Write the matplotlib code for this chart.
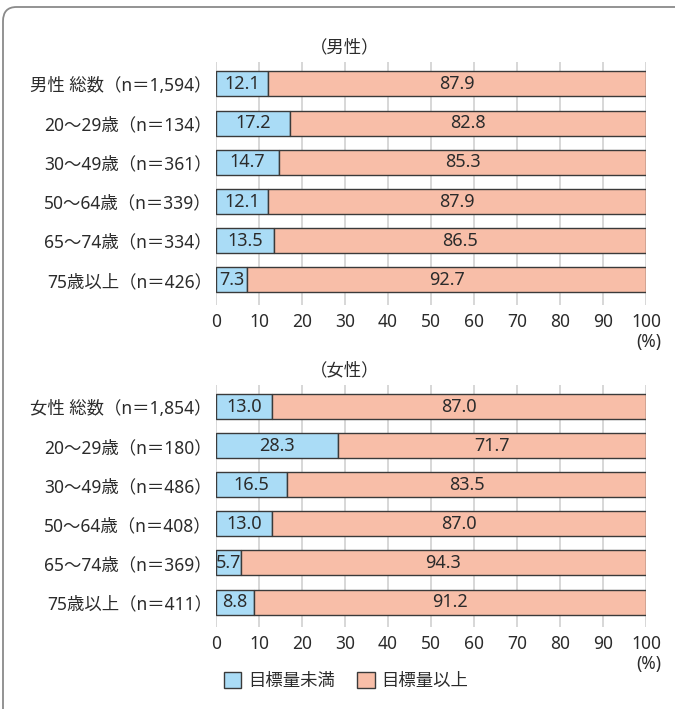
import matplotlib
matplotlib.use("Agg")
import matplotlib.pyplot as plt
from matplotlib.patches import FancyBboxPatch, Patch

plt.rcParams["font.family"] = ["Noto Sans", "Noto Sans CJK JP", "DejaVu Sans"]

# ---------------------------------------------------------------------------
# Data
# ---------------------------------------------------------------------------
male_labels = ["男性 総数（n＝1,594）", "20～29歳（n＝134）", "30～49歳（n＝361）",
               "50～64歳（n＝339）", "65～74歳（n＝334）", "75歳以上（n＝426）"]
male_under = [12.1, 17.2, 14.7, 12.1, 13.5, 7.3]
male_over = [87.9, 82.8, 85.3, 87.9, 86.5, 92.7]

female_labels = ["女性 総数（n＝1,854）", "20～29歳（n＝180）", "30～49歳（n＝486）",
                 "50～64歳（n＝408）", "65～74歳（n＝369）", "75歳以上（n＝411）"]
female_under = [13.0, 28.3, 16.5, 13.0, 5.7, 8.8]
female_over = [87.0, 71.7, 83.5, 87.0, 94.3, 91.2]

legend_labels = ["目標量未満", "目標量以上"]
xticks = list(range(0, 101, 10))

BLUE = "#aadcf6"
SALMON = "#f8bea8"
EDGE = "#3a3a3a"
TXT = "#2b2b2b"
GRID = "#d4d4d4"
FS = 12.5

fig = plt.figure(figsize=(6.75, 7.09), dpi=100)

# rounded frame (cut off at right and bottom)
frame = FancyBboxPatch((3 / 675, -0.1), 1.2, 1 - 7 / 709 + 0.1,
                       boxstyle="round,pad=0,rounding_size=0.02",
                       transform=fig.transFigure, fill=False,
                       edgecolor="#8a8a8a", lw=1.3, zorder=0)
fig.patches.append(frame)


def panel(rect, labels, under, over, title, title_y):
    ax = fig.add_axes(rect)
    y = list(range(len(labels)))
    ax.barh(y, under, height=0.64, color=BLUE, edgecolor=EDGE, lw=1.0, zorder=3)
    ax.barh(y, over, left=under, height=0.64, color=SALMON, edgecolor=EDGE,
            lw=1.0, zorder=3)
    for yi, u, o in zip(y, under, over):
        ax.text(u / 2, yi, f"{u:.1f}", ha="center", va="center", fontsize=13,
                color=TXT, zorder=4)
        ax.text(u + o / 2, yi, f"{o:.1f}", ha="center", va="center", fontsize=13,
                color=TXT, zorder=4)
    ax.set_xlim(0, 100)
    ax.set_ylim(5.64, -0.56)
    ax.set_yticks(y)
    ax.set_yticklabels(labels, fontsize=FS, color=TXT)
    ax.set_xticks(xticks)
    ax.set_xticklabels([str(t) for t in xticks], fontsize=FS, color=TXT)
    ax.tick_params(axis="both", length=0)
    ax.tick_params(axis="y", pad=3)
    ax.tick_params(axis="x", pad=6)
    ax.grid(axis="x", color=GRID, lw=1.3, zorder=0)
    for s in ax.spines.values():
        s.set_visible(False)
    fig.text(345 / 675, title_y, title, ha="center", va="center", fontsize=FS,
             color=TXT)
    return ax


ax1 = panel([216 / 675, 1 - 305 / 709, 430 / 675, 243 / 709],
            male_labels, male_under, male_over, "（男性）", 1 - 47 / 709)
fig.text(661 / 675, 1 - 342 / 709, "(%)", ha="right", va="center", fontsize=FS,
         color=TXT)

ax2 = panel([216 / 675, 1 - 627 / 709, 430 / 675, 242 / 709],
            female_labels, female_under, female_over, "（女性）", 1 - 370 / 709)
fig.text(661 / 675, 1 - 664 / 709, "(%)", ha="right", va="center", fontsize=FS,
         color=TXT)

handles = [Patch(facecolor=BLUE, edgecolor=EDGE, lw=1.0),
           Patch(facecolor=SALMON, edgecolor=EDGE, lw=1.0)]
fig.legend(handles, legend_labels, loc="center left",
           bbox_to_anchor=(208 / 675, 1 - 681 / 709), ncol=2, frameon=False,
           fontsize=FS, handlelength=1.0, handleheight=1.0, handletextpad=0.4,
           columnspacing=1.3, labelcolor=TXT)

fig.savefig("out.png", dpi=100)
